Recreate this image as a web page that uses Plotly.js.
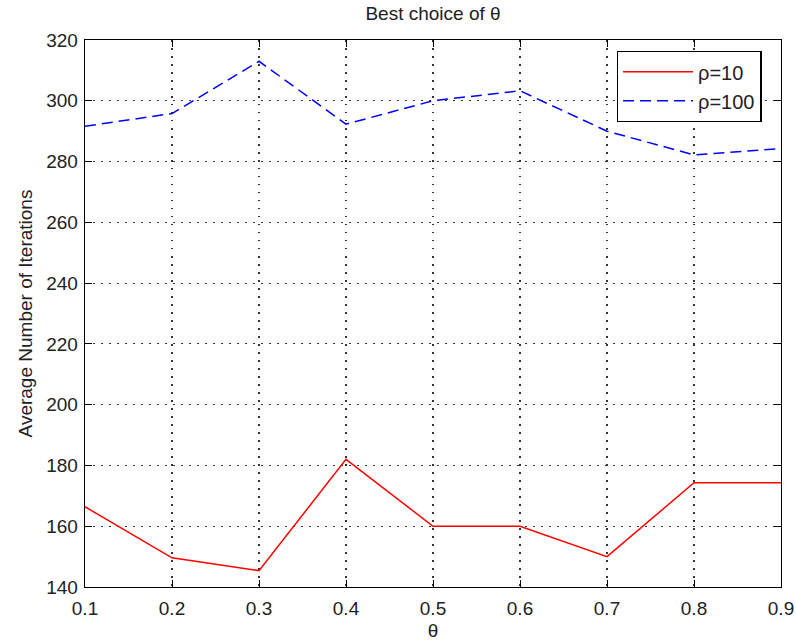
<!DOCTYPE html>
<html><head><meta charset="utf-8">
<script src="https://cdn.plot.ly/plotly-3.0.1.min.js"></script>
<style>body{margin:0;background:#fff}#c{width:796px;height:641px}</style>
</head><body><div id="c"></div>
<script>
var theta = [0.1,0.2,0.3,0.4,0.5,0.6,0.7,0.8,0.9];
var rho10 = [166.4,149.6,145.4,182,160,160,150,174.3,174.3];
var rho100 = [291.6,295.8,313,292.3,300,303.3,290,282.2,284.3];
var xTicks = [0.1,0.2,0.3,0.4,0.5,0.6,0.7,0.8,0.9];
var yTicks = [140,160,180,200,220,240,260,280,300,320];
var font = {family:"Liberation Sans, Arial, sans-serif", size:19, color:"#222"};
var data = [
 {x:theta, y:rho10, type:"scatter", mode:"lines", name:"ρ=10", line:{color:"#ff0000", width:1.5}},
 {x:theta, y:rho100, type:"scatter", mode:"lines", name:"ρ=100", line:{color:"#0000ff", width:1.5, dash:"11px,6px"}}
];
var ax = {showline:true, linecolor:"#000", linewidth:1.3, mirror:"ticks", ticks:"inside", ticklen:7, tickcolor:"#000",
  showgrid:true, gridcolor:"#333", griddash:"1.5px,6.5px", gridwidth:1.2, zeroline:false, tickfont:font};
var layout = {
 width:796, height:641, margin:{l:85,r:15,t:40,b:54},
 paper_bgcolor:"#fff", plot_bgcolor:"#fff", font:font,
 title:{text:"Best choice of θ", font:{family:font.family,size:19,color:"#222"}, x:0.5, xref:"paper", xanchor:"center", y:0.99, yanchor:"top"},
 xaxis:Object.assign({}, ax, {range:[0.1,0.9], tickvals:xTicks, ticktext:xTicks.map(String), ticklabelstandoff:4, title:{text:"θ", font:font, standoff:6}}),
 yaxis:Object.assign({}, ax, {range:[140,320], tickvals:yTicks, ticklabelstandoff:2, title:{text:"Average Number of Iterations", font:font, standoff:8}}),
 legend:{x:0.764, y:0.98, xanchor:"left", yanchor:"top", bordercolor:"#000", borderwidth:1.3, bgcolor:"#fff", itemwidth:70,
   font:{family:font.family,size:20,color:"#222"}},
 showlegend:true
};
Plotly.newPlot("c", data, layout, {displayModeBar:false, staticPlot:true});
</script></body></html>
